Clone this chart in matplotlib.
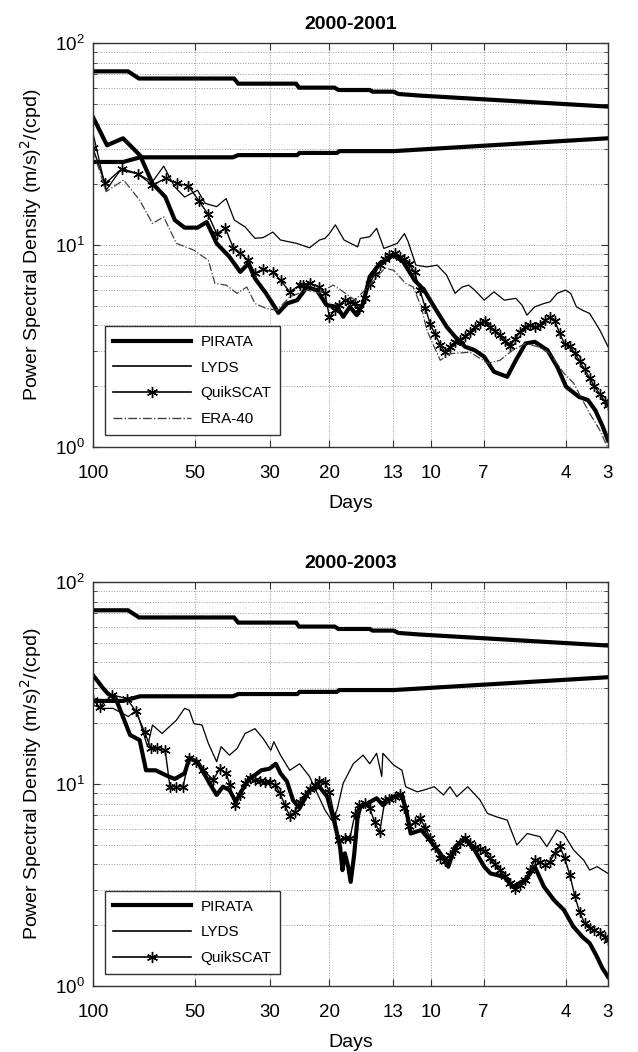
import matplotlib
matplotlib.use("Agg")
import matplotlib.pyplot as plt
from matplotlib.ticker import FixedLocator, FixedFormatter, NullLocator, LogLocator
from matplotlib.lines import Line2D

plt.rcParams['font.family'] = ['Liberation Sans', 'DejaVu Sans']

# ---------------------------------------------------------------- axes setup
xtick_days = [100, 50, 30, 20, 13, 10, 7, 4, 3]
xtick_labels = ['100', '50', '30', '20', '13', '10', '7', '4', '3']

# ---------------------------------------------------------------- 95% confidence limits
conf_up_days = [100, 78.8, 73.1, 38.3, 37.2, 25.1, 24.6, 19.3, 18.8, 15.2, 14.9, 12.9, 12.5, 10.8, 3.0]
conf_up_psd = [72.5, 72.5, 66.8, 66.8, 63.0, 63.0, 60.2, 60.2, 58.6, 58.6, 57.5, 57.5, 56.0, 55.0, 48.5]
conf_lo_days = [100, 81.5, 72.6, 38.6, 37.2, 24.9, 24.5, 19.0, 18.7, 12.9, 3.0]
conf_lo_psd = [25.8, 25.8, 27.2, 27.2, 27.9, 27.9, 28.6, 28.6, 29.2, 29.2, 33.8]

# ---------------------------------------------------------------- 2000-2001 spectra
pir01_days = [100, 90.9, 81.5, 72.6, 66.7, 61.1, 57.3, 53.6, 49.1, 46.1, 43.1, 39.5, 36.7, 34.7,
              33.2, 30.8, 28.3, 26.7, 24.9, 23.3, 21.8, 20.4, 19.0, 18.2, 17.4, 16.6, 15.9, 15.2,
              14.2, 12.9, 12.1, 11.2, 10.5, 9.8, 9.0, 8.5, 7.94, 7.44, 6.97, 6.52, 5.96, 5.62,
              5.26, 4.94, 4.53, 4.24, 3.99, 3.65, 3.44, 3.27, 3.12, 3.0]
pir01_psd = [43.0, 31.2, 33.8, 27.8, 20.2, 17.3, 13.3, 12.2, 12.2, 13.0, 10.2, 8.75, 7.37, 8.1,
             6.84, 5.77, 4.62, 5.14, 5.34, 6.2, 5.99, 5.05, 4.95, 4.42, 4.95, 4.5, 5.14, 6.97,
             8.11, 8.93, 8.27, 6.7, 6.0, 4.95, 3.94, 3.52, 3.14, 3.02, 2.8, 2.36, 2.23, 2.69,
             3.26, 3.32, 3.02, 2.5, 1.99, 1.77, 1.71, 1.52, 1.28, 1.08]

lyds01_days = [100, 91.5, 83.0, 74.4, 66.7, 61.8, 57.3, 53.6, 49.1, 46.6, 43.1, 40.4, 38.2, 35.5,
               33.2, 31.4, 29.4, 27.9, 25.0, 22.9, 21.4, 20.6, 20.0, 19.2, 18.1, 16.5, 16.2, 15.2,
               14.5, 13.8, 13.0, 12.6, 12.0, 11.7, 11.1, 10.3, 9.6, 9.0, 8.5, 8.1, 7.75, 7.44,
               6.97, 6.52, 6.08, 5.62, 5.39, 5.21, 4.94, 4.64, 4.45, 4.24, 4.01, 3.87, 3.72,
               3.57, 3.40, 3.17, 3.0]
lyds01_psd = [35.8, 18.7, 23.5, 22.6, 20.6, 24.6, 19.4, 17.3, 18.7, 16.1, 15.5, 17.0, 13.3, 12.3,
              10.8, 10.9, 11.6, 10.6, 10.2, 9.7, 10.6, 10.8, 11.4, 12.6, 10.6, 9.8, 10.8, 11.0,
              12.1, 9.63, 10.0, 10.2, 11.4, 10.4, 7.96, 7.8, 7.96, 7.1, 5.77, 6.2, 6.34, 5.99,
              5.34, 5.87, 5.34, 5.45, 5.05, 4.5, 4.95, 5.14, 5.24, 5.77, 5.99, 5.77, 4.95,
              4.76, 4.59, 3.79, 3.14]

qs01_days = [100, 92.1, 82.1, 73.8, 66.7, 61.0, 56.5, 52.3, 48.7, 45.8, 43.1, 40.6, 38.5, 36.7,
             34.7, 33.2, 31.4, 29.4, 27.9, 26.2, 24.5, 23.9, 22.9, 21.4, 20.6,
             20.0, 19.3, 18.7, 18.0, 17.4, 16.8, 16.3, 15.7, 15.2, 14.7,
             14.2, 13.7, 13.3, 12.8, 12.4, 12.0, 11.6, 11.2, 10.8, 10.4,
             10.07, 9.74, 9.4, 9.1, 8.8, 8.5, 8.2, 7.94, 7.68, 7.42,
             7.17, 6.93, 6.70, 6.48, 6.26, 6.05, 5.85, 5.65, 5.47, 5.28,
             5.11, 4.94, 4.77, 4.61, 4.46, 4.31, 4.17, 4.03, 3.89, 3.76,
             3.64, 3.52, 3.40, 3.29, 3.17, 3.07, 3.0]
qs01_psd = [30.1, 20.2, 23.9, 22.6, 19.8, 21.4, 20.2, 19.7, 16.6, 14.3, 11.4, 12.1, 9.7, 9.1,
            8.4, 7.25, 7.6, 7.37, 6.7, 5.87, 6.34, 6.34, 6.5, 6.2, 5.77,
            4.40, 4.76, 5.05, 5.34, 5.22, 5.16, 4.82, 5.47, 6.41, 7.19,
            7.96, 8.52, 8.92, 9.13, 8.72, 8.53, 8.05, 7.35, 5.99, 4.88,
            4.06, 3.63, 3.20, 2.95, 3.13, 3.31, 3.39, 3.54, 3.71, 3.93,
            4.11, 4.20, 3.93, 3.75, 3.58, 3.35, 3.16, 3.42, 3.71, 3.93,
            4.02, 3.93, 4.02, 4.25, 4.40, 4.20, 3.67, 3.23, 3.16, 2.92,
            2.67, 2.43, 2.20, 2.00, 1.83, 1.69, 1.61]

era01_days = [100, 91.5, 81.2, 72.8, 66.7, 61.8, 56.7, 50.3, 45.6, 43.6, 40.4, 37.5, 35.1, 33.2,
              30.8, 28.6, 26.2, 23.3, 21.4, 19.5, 18.5, 16.8, 15.2, 13.7, 12.9, 11.9, 11.3, 10.7,
              10.3, 9.8, 9.4, 8.8, 7.68, 6.8, 6.26, 5.74, 5.26, 4.84, 4.45, 4.05, 3.79, 3.40,
              3.17, 3.02]
era01_psd = [29.5, 18.4, 21.0, 16.7, 12.8, 13.8, 10.2, 9.44, 8.4, 6.46, 6.34, 5.77, 6.2, 5.14,
             4.86, 4.76, 5.54, 5.99, 5.79, 6.34, 5.99, 5.34, 6.34, 7.7, 7.5, 6.46, 6.2, 4.95,
             3.79, 3.14, 2.69, 2.9, 2.95, 2.6, 2.69, 3.02, 3.26, 3.14, 2.9, 2.32, 2.07, 1.47,
             1.21, 1.01]

# ---------------------------------------------------------------- 2000-2003 spectra
pir03_days = [100, 93.2, 90.5, 85.7, 83.0, 77.7, 72.8, 69.7, 65.3, 59.8, 57.3, 53.6, 51.9, 49.1,
              45.1, 43.1, 41.3, 39.5, 37.8, 36.7, 34.7, 31.8, 30.1, 28.8, 27.9, 26.7, 25.6, 24.5,
              22.9, 21.4, 20.3, 19.4, 18.6, 18.3, 18.0, 17.6, 17.3, 16.9, 16.5, 16.2, 15.5, 14.5,
              13.9, 13.0, 12.2, 11.8, 11.5, 10.7, 10.1, 9.4, 8.9, 8.5, 7.94, 7.44, 6.97, 6.68,
              6.08, 5.74, 5.26, 4.94, 4.64, 4.33, 4.05, 3.8, 3.57, 3.40, 3.25, 3.12, 3.0]
pir03_psd = [34.6, 29.7, 28.1, 26.5, 23.2, 17.5, 16.5, 11.7, 11.7, 10.9, 10.6, 11.3, 13.4, 12.9,
             10.0, 8.83, 9.7, 9.34, 8.17, 9.0, 10.5, 11.7, 11.9, 12.6, 11.3, 10.3, 8.3, 7.6,
             9.34, 9.7, 8.66, 6.63, 4.9, 3.75, 4.54, 3.9, 3.28, 4.45, 6.88, 7.7, 8.0, 8.5,
             7.87, 8.66, 8.83, 7.16, 5.69, 5.92, 5.28, 4.54, 3.9, 4.9, 5.39, 4.71, 3.9, 3.61,
             3.47, 3.1, 3.35, 3.9, 3.1, 2.66, 2.38, 1.97, 1.75, 1.63, 1.42, 1.23, 1.11]

lyds03_days = [100, 94.3, 87.3, 78.6, 74.4, 69.0, 66.7, 62.5, 56.7, 53.6, 51.9, 50.3, 47.6, 45.6,
               43.1, 41.8, 39.5, 37.5, 35.5, 33.2, 31.4, 29.8, 29.2, 27.9, 26.2, 24.5, 22.9, 20.6,
               19.7, 19.0, 18.2, 17.0, 15.9, 15.2, 14.5, 14.0, 13.9, 12.9, 12.2, 11.9, 11.0, 10.5,
               9.8, 9.2, 8.8, 8.4, 7.8, 7.17, 6.82, 6.41, 5.96, 5.58, 5.2, 4.77, 4.55, 4.25,
               4.06, 3.79, 3.54, 3.40, 3.23, 3.0]
lyds03_psd = [24.6, 23.7, 23.7, 21.6, 23.2, 15.3, 19.6, 17.8, 20.7, 23.7, 23.2, 19.9, 19.6, 15.9,
              12.9, 15.3, 13.9, 15.0, 17.8, 18.8, 16.8, 14.7, 16.2, 13.9, 11.7, 12.6, 10.9, 7.42,
              6.63, 7.42, 10.1, 12.6, 13.9, 12.6, 14.2, 10.9, 14.2, 12.4, 11.7, 9.7, 9.15, 9.34,
              9.7, 8.83, 9.7, 8.66, 9.7, 8.34, 7.16, 6.88, 6.63, 4.99, 5.69, 5.49, 4.9, 5.92,
              5.69, 4.71, 4.2, 3.75, 3.9, 3.61]

qs03_days = [100, 95.6, 87.6, 79.4, 74.7, 70.4, 67.4, 64.6, 61.2, 59.2, 56.7, 54.2, 51.9, 49.7,
             47.2, 44.1, 42.2, 40.4,
             39.4, 38.1, 36.8, 35.6, 34.4, 33.2, 32.1, 31.0, 30.0, 29.0,
             28.0, 27.1, 26.2, 25.3, 24.5, 23.6, 22.9, 22.1, 21.4, 20.6,
             20.0, 19.3, 18.7, 18.0, 17.4, 16.8, 16.3, 15.7, 15.2, 14.7,
             14.2, 13.7, 13.3, 12.8, 12.4, 12.0, 11.6, 11.2, 10.8, 10.4,
             10.07, 9.74, 9.4, 9.1, 8.8, 8.5, 8.2, 7.94, 7.68, 7.42,
             7.17, 6.93, 6.70, 6.48, 6.26, 6.05, 5.85, 5.65, 5.47, 5.28,
             5.11, 4.94, 4.77, 4.61, 4.46, 4.31, 4.17, 4.03, 3.89, 3.76,
             3.64, 3.52, 3.40, 3.29, 3.17, 3.07, 3.0]
qs03_psd = [26.1, 24.1, 27.6, 26.5, 22.9, 18.1, 15.0, 15.0, 14.7, 9.7, 9.7, 9.7, 13.4, 12.9,
            11.7, 10.5, 11.9, 11.3,
            9.89, 7.87, 8.82, 10.1, 10.7, 10.5, 10.35, 10.2, 10.2, 9.89,
            9.03, 7.87, 6.94, 7.27, 8.14, 8.82, 9.45, 9.89, 10.35, 10.2,
            9.13, 6.87, 5.28, 5.40, 5.40, 7.10, 7.87, 8.05, 7.61, 6.48,
            5.79, 8.33, 8.43, 8.62, 8.92, 7.61, 6.20, 6.48, 6.79, 6.06,
            5.40, 4.88, 4.30, 4.16, 4.45, 4.71, 5.10, 5.40, 5.10, 4.88,
            4.77, 4.66, 4.30, 4.02, 3.75, 3.50, 3.23, 3.02, 3.16, 3.35,
            3.75, 4.20, 4.11, 3.97, 4.11, 4.55, 4.93, 4.30, 3.54, 2.79,
            2.32, 2.05, 1.94, 1.89, 1.83, 1.75, 1.69]

panels = [
    dict(title='2000-2001',
         series=[('PIRATA', pir01_days, pir01_psd),
                 ('LYDS', lyds01_days, lyds01_psd),
                 ('QuikSCAT', qs01_days, qs01_psd),
                 ('ERA-40', era01_days, era01_psd)]),
    dict(title='2000-2003',
         series=[('PIRATA', pir03_days, pir03_psd),
                 ('LYDS', lyds03_days, lyds03_psd),
                 ('QuikSCAT', qs03_days, qs03_psd)]),
]

asterisk = (6, 2, 0)
styles = {
    'PIRATA': dict(color='black', lw=3.0, ls='-'),
    'LYDS': dict(color='black', lw=0.9, ls='-'),
    'QuikSCAT': dict(color='black', lw=1.0, ls='-', marker=asterisk, ms=7.5, mew=1.0),
    'ERA-40': dict(color='#404040', lw=0.9, ls='-.'),
}
legend_styles = {
    'PIRATA': dict(color='black', lw=3.0, ls='-'),
    'LYDS': dict(color='black', lw=1.2, ls='-'),
    'QuikSCAT': dict(color='black', lw=1.2, ls='-', marker=asterisk, ms=8, mew=1.0),
    'ERA-40': dict(color='#404040', lw=1.0, ls='-.'),
}

fig = plt.figure(figsize=(6.38, 10.52), dpi=100)
positions = [[0.1458, 0.575, 0.8072, 0.384], [0.1458, 0.0627, 0.8072, 0.384]]

for pos, panel in zip(positions, panels):
    ax = fig.add_axes(pos)
    ax.set_xscale('log')
    ax.set_yscale('log')

    ax.plot(conf_up_days, conf_up_psd, color='black', lw=3.0, solid_joinstyle='miter')
    ax.plot(conf_lo_days, conf_lo_psd, color='black', lw=3.0, solid_joinstyle='miter')

    handles = []
    for name, d, p in panel['series']:
        ax.plot(d, p, **styles[name])
        handles.append(Line2D([], [], label=name, **legend_styles[name]))

    ax.set_xlim(100, 3)
    ax.set_ylim(1, 100)
    ax.xaxis.set_major_locator(FixedLocator(xtick_days))
    ax.xaxis.set_major_formatter(FixedFormatter(xtick_labels))
    ax.xaxis.set_minor_locator(NullLocator())
    ax.yaxis.set_major_locator(LogLocator(base=10, numticks=5))
    ax.yaxis.set_minor_locator(LogLocator(base=10, subs=range(2, 10), numticks=20))

    ax.grid(True, which='major', axis='x', ls=':', lw=0.7, color='#9a9a9a')
    ax.grid(True, which='both', axis='y', ls=':', lw=0.7, color='#9a9a9a')
    ax.set_axisbelow(True)

    ax.tick_params(which='both', direction='in', top=True, right=True,
                   labelsize=13.5, color='#333333')
    ax.tick_params(which='major', length=5)
    ax.tick_params(which='minor', length=3)
    ax.tick_params(axis='x', which='major', pad=13)
    ax.tick_params(axis='y', which='major', pad=6)
    for sp in ax.spines.values():
        sp.set_linewidth(1.0)
        sp.set_color('#333333')

    ax.set_title(panel['title'], fontsize=14, fontweight='bold', pad=10)
    ax.set_xlabel('Days', fontsize=14, labelpad=9)
    ax.set_ylabel('Power Spectral Density (m/s)$^2$/(cpd)', fontsize=14, labelpad=8)

    leg = ax.legend(handles=handles, loc='lower left', bbox_to_anchor=(0.023, 0.031),
                    borderaxespad=0, fancybox=False, framealpha=1, edgecolor='#333333',
                    fontsize=11, handlelength=5.1, handletextpad=0.6, labelspacing=0.77,
                    borderpad=0.55, numpoints=1)
    leg.get_frame().set_linewidth(1.0)

fig.savefig('out.png', dpi=100)
